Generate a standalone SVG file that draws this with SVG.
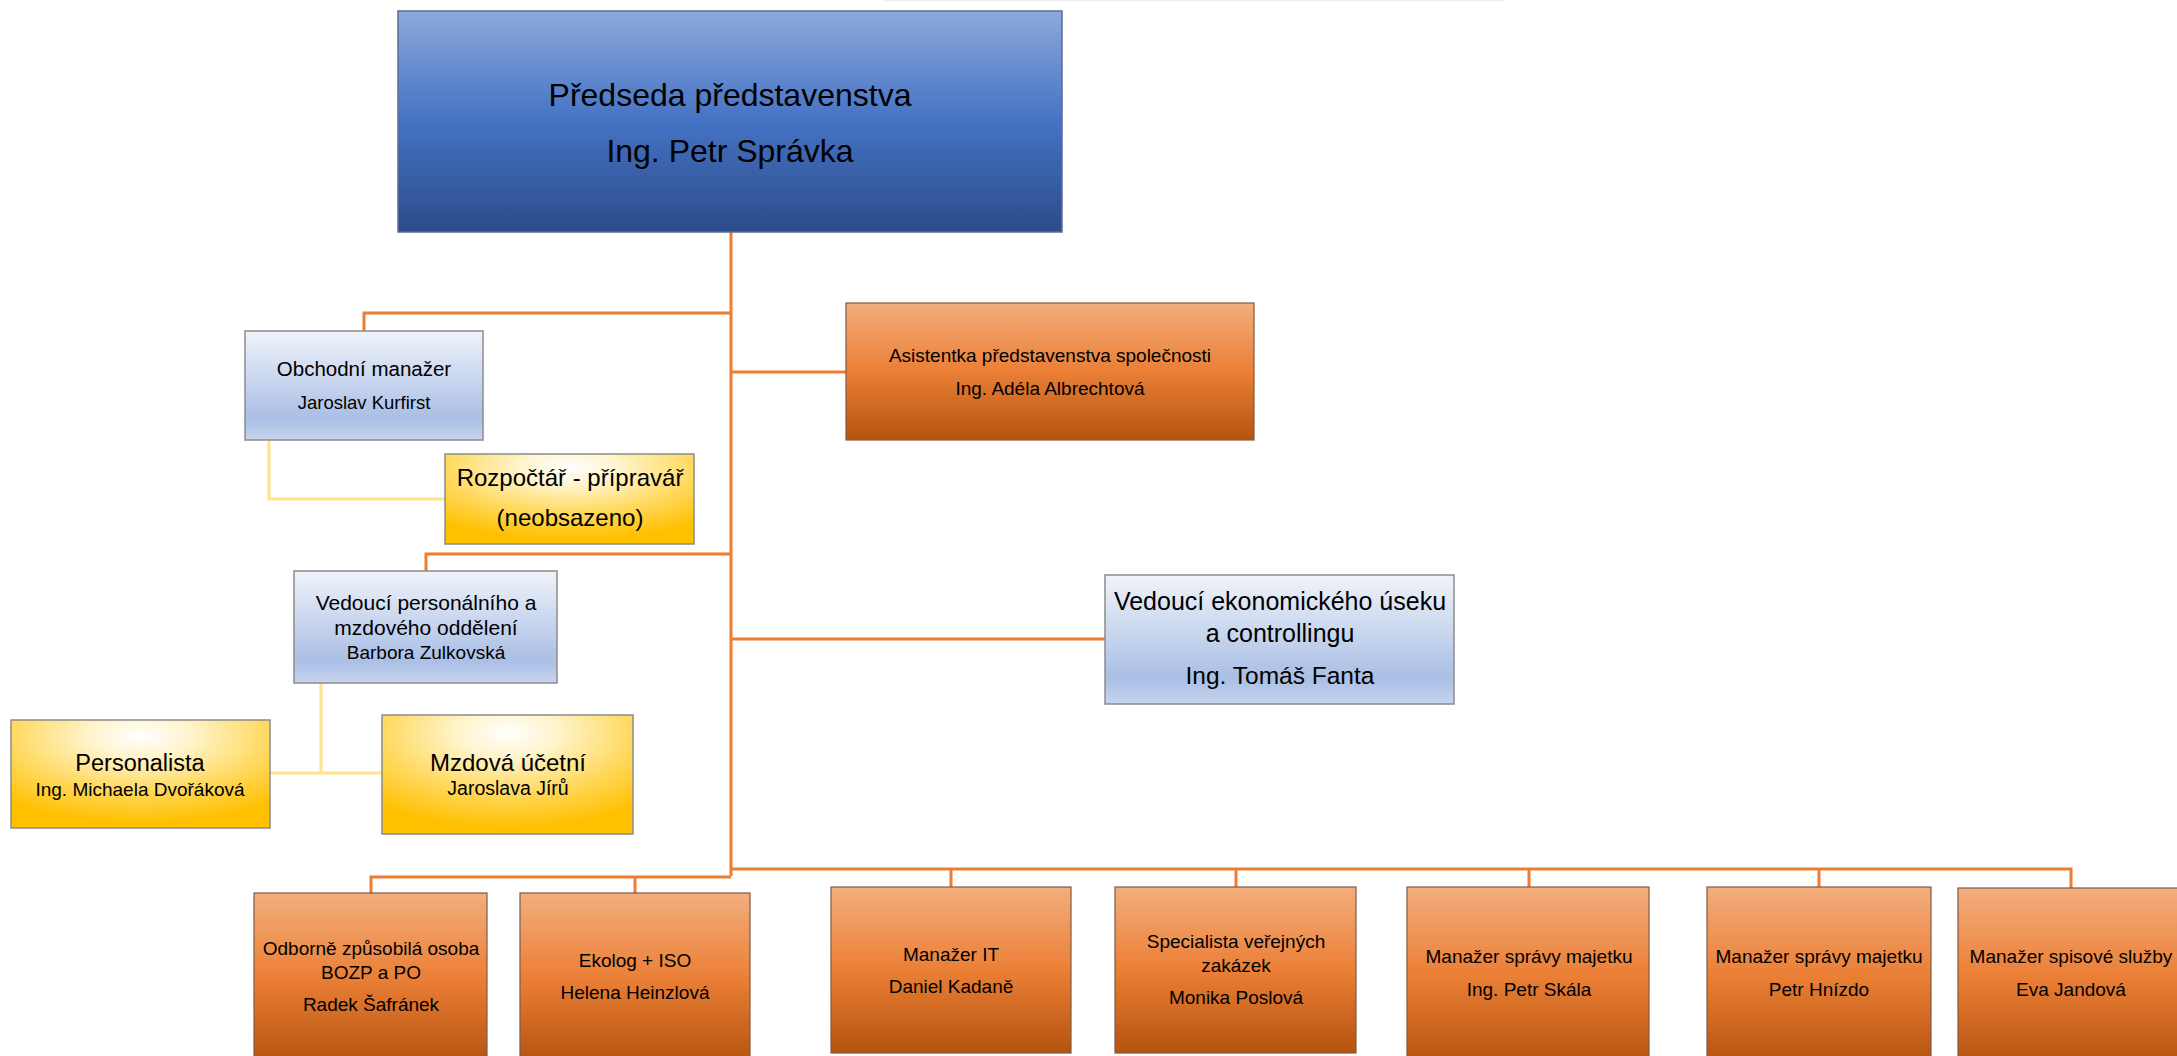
<svg xmlns="http://www.w3.org/2000/svg" width="2177" height="1056" viewBox="0 0 2177 1056">
<defs>
<linearGradient id="gDark" x1="0" y1="0" x2="0" y2="1">
<stop offset="0" stop-color="#8DA9DB"/>
<stop offset="0.5" stop-color="#4472C4"/>
<stop offset="1" stop-color="#2C4C88"/>
</linearGradient>
<linearGradient id="gLight" x1="0" y1="0" x2="0" y2="1">
<stop offset="0" stop-color="#F0F3FA"/>
<stop offset="0.8" stop-color="#AABFE5"/>
<stop offset="1" stop-color="#C7D4EE"/>
</linearGradient>
<linearGradient id="gOrange" x1="0" y1="0" x2="0" y2="1">
<stop offset="0" stop-color="#F3AE7E"/>
<stop offset="0.5" stop-color="#EB7F36"/>
<stop offset="1" stop-color="#B5530F"/>
</linearGradient>
<radialGradient id="gYellow" cx="0.5" cy="0.15" r="0.8" fx="0.5" fy="0.15">
<stop offset="0" stop-color="#FFFFFF"/>
<stop offset="0.25" stop-color="#FFF4CC"/>
<stop offset="0.6" stop-color="#FFDB66"/>
<stop offset="1" stop-color="#FFC000"/>
</radialGradient>
</defs>
<style>
text{font-family:"Liberation Sans",Arial,sans-serif;fill:#000;text-anchor:middle}
.dark{fill:url(#gDark);stroke:#5A6E96;stroke-width:1.5}
.light{fill:url(#gLight);stroke:#8C8C8C;stroke-width:1.5}
.orange{fill:url(#gOrange);stroke:#7F5A44;stroke-width:1.2}
.yellow{fill:url(#gYellow);stroke:#8C8C8C;stroke-width:1.5}
.con{fill:none;stroke:#ED7D31;stroke-width:3}
.ycon{fill:none;stroke:#FFE38A;stroke-width:3}
</style>
<line x1="884" y1="0.5" x2="1504" y2="0.5" stroke="#EEEEEE" stroke-width="1.5"/>
<g id="connectors">
<path class="con" d="M731 232 V876"/>
<path class="con" d="M364 331 V313 H731"/>
<path class="con" d="M731 372 H846"/>
<path class="con" d="M426 571 V554 H731"/>
<path class="con" d="M731 639 H1105"/>
<path class="con" d="M371 893 V877 H731"/>
<path class="con" d="M635 877 V893"/>
<path class="con" d="M731 869 H2071 V888"/>
<path class="con" d="M951 869 V887"/>
<path class="con" d="M1236 869 V887"/>
<path class="con" d="M1529 869 V887"/>
<path class="con" d="M1819 869 V887"/>
<path class="ycon" d="M269 440 V499 H445"/>
<path class="ycon" d="M321 683 V773"/>
<path class="ycon" d="M270 773 H382"/>
</g>
<g id="predseda">
<rect class="dark" x="398" y="11" width="664" height="221"/>
<text x="730" y="106" font-size="32">Předseda představenstva</text>
<text x="730" y="162" font-size="32">Ing. Petr Správka</text>
</g>
<g id="obchodni">
<rect class="light" x="245" y="331" width="238" height="109"/>
<text x="364" y="376" font-size="20.5">Obchodní manažer</text>
<text x="364" y="409" font-size="18.5">Jaroslav Kurfirst</text>
</g>
<g id="asistentka">
<rect class="orange" x="846" y="303" width="408" height="137"/>
<text x="1050" y="362" font-size="19">Asistentka představenstva společnosti</text>
<text x="1050" y="395" font-size="19">Ing. Adéla Albrechtová</text>
</g>
<g id="rozpoctar">
<rect class="yellow" x="445" y="454" width="249" height="90"/>
<text x="570" y="486" font-size="24">Rozpočtář - přípravář</text>
<text x="570" y="526" font-size="24">(neobsazeno)</text>
</g>
<g id="vedouci-personalni">
<rect class="light" x="294" y="571" width="263" height="112"/>
<text x="426" y="610" font-size="21">Vedoucí personálního a</text>
<text x="426" y="635" font-size="21">mzdového oddělení</text>
<text x="426" y="659" font-size="19">Barbora Zulkovská</text>
</g>
<g id="vedouci-ekonomicky">
<rect class="light" x="1105" y="575" width="349" height="129"/>
<text x="1280" y="610" font-size="25">Vedoucí ekonomického úseku</text>
<text x="1280" y="642" font-size="25">a controllingu</text>
<text x="1280" y="684" font-size="24.5">Ing. Tomáš Fanta</text>
</g>
<g id="personalista">
<rect class="yellow" x="11" y="720" width="259" height="108"/>
<text x="140" y="771" font-size="23.5">Personalista</text>
<text x="140" y="796" font-size="19">Ing. Michaela Dvořáková</text>
</g>
<g id="mzdova">
<rect class="yellow" x="382" y="715" width="251" height="119"/>
<text x="508" y="771" font-size="24">Mzdová účetní</text>
<text x="508" y="795" font-size="19.5">Jaroslava Jírů</text>
</g>
<g id="bozp">
<rect class="orange" x="254" y="893" width="233" height="170"/>
<text x="371" y="955" font-size="19">Odborně způsobilá osoba</text>
<text x="371" y="979" font-size="19">BOZP a PO</text>
<text x="371" y="1011" font-size="19">Radek Šafránek</text>
</g>
<g id="ekolog">
<rect class="orange" x="520" y="893" width="230" height="170"/>
<text x="635" y="967" font-size="19">Ekolog + ISO</text>
<text x="635" y="999" font-size="19">Helena Heinzlová</text>
</g>
<g id="it">
<rect class="orange" x="831" y="887" width="240" height="166"/>
<text x="951" y="961" font-size="19">Manažer IT</text>
<text x="951" y="993" font-size="19">Daniel Kadaně</text>
</g>
<g id="specialista">
<rect class="orange" x="1115" y="887" width="241" height="166"/>
<text x="1236" y="948" font-size="19">Specialista veřejných</text>
<text x="1236" y="972" font-size="19">zakázek</text>
<text x="1236" y="1004" font-size="19">Monika Poslová</text>
</g>
<g id="sprava-skala">
<rect class="orange" x="1407" y="887" width="242" height="176"/>
<text x="1529" y="963" font-size="19">Manažer správy majetku</text>
<text x="1529" y="996" font-size="19">Ing. Petr Skála</text>
</g>
<g id="sprava-hnizdo">
<rect class="orange" x="1707" y="887" width="224" height="176"/>
<text x="1819" y="963" font-size="19">Manažer správy majetku</text>
<text x="1819" y="996" font-size="19">Petr Hnízdo</text>
</g>
<g id="spisova">
<rect class="orange" x="1958" y="888" width="224" height="176"/>
<text x="2071" y="963" font-size="19">Manažer spisové služby</text>
<text x="2071" y="996" font-size="19">Eva Jandová</text>
</g>
</svg>
